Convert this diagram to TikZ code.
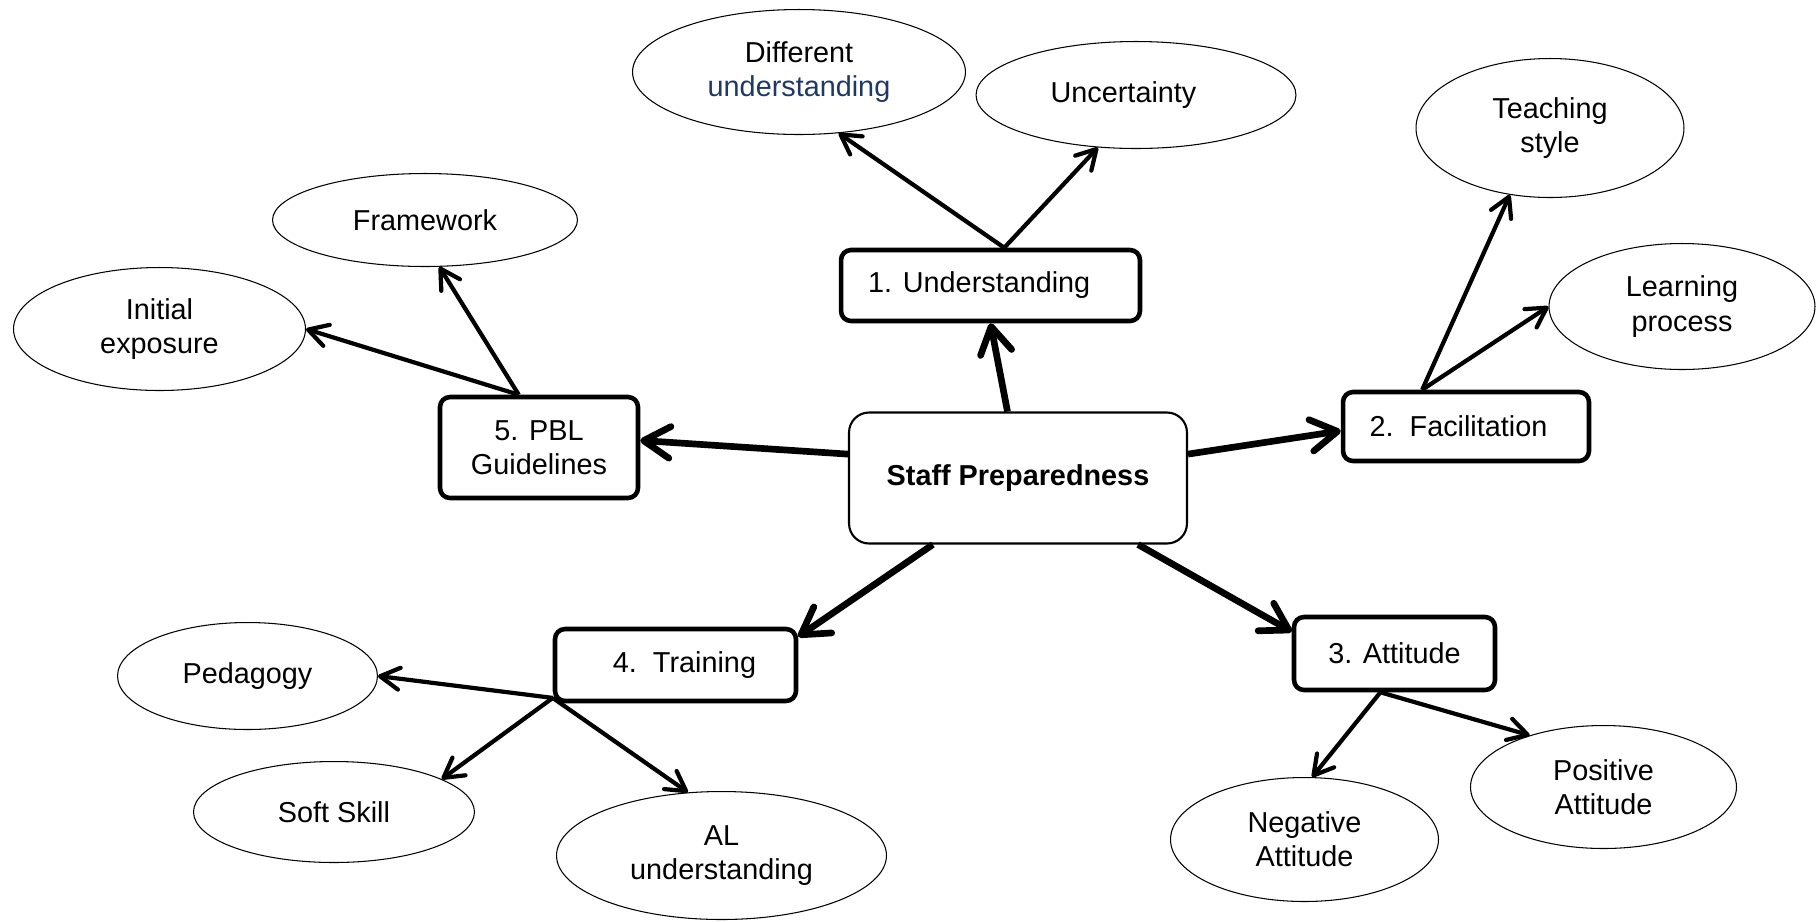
\documentclass[tikz,border=0pt]{standalone}
\usepackage{fontspec}
\setmainfont{Liberation Sans}
\usetikzlibrary{arrows.meta, shapes.geometric, positioning}
\definecolor{textblue}{HTML}{1F3864}

\begin{document}
\begin{tikzpicture}[
        x=0.02cm, y=-0.02cm,
        font=\fontsize{16.4}{19.4}\selectfont,
        hub/.style={draw, line width=1.2pt, rounded corners=0.4cm, inner sep=0pt,
            minimum width=6.76cm, minimum height=2.62cm},
        theme/.style={draw, line width=2.6pt, rounded corners=0.2cm, inner sep=0pt, align=center},
        leaf/.style={draw, ellipse, line width=0.6pt, inner sep=0pt, align=center},
        bigarrow/.style={line width=3.8pt, -{Straight Barb[length=15pt,width=18pt,round]}},
        smallarrow/.style={line width=2.4pt, -{Straight Barb[length=11pt,width=12.5pt,round]}},
        ]
        \useasboundingbox (0,0) rectangle (1816,921);

        \node[hub]                                                (sp)  at (1018,478) {\textbf{Staff Preparedness}};
        \node[theme, minimum width=5.98cm, minimum height=1.42cm] (c_1) at (990.5,285.5) {1. Understanding\hspace{0.45cm}};
        \node[theme, minimum width=4.92cm, minimum height=1.38cm] (c_2) at (1466,426.5)  {2.~~Facilitation\hspace{0.3cm}};
        \node[theme, minimum width=4.02cm, minimum height=1.46cm] (c_3) at (1394.5,653.5) {3. Attitude};
        \node[theme, minimum width=4.82cm, minimum height=1.44cm] (c_4) at (675.5,665)   {\hspace{0.36cm}4.~~Training};
        \node[theme, minimum width=3.96cm, minimum height=2.02cm] (c_5) at (539,447.5)   {5. PBL\\Guidelines};

        \node[leaf, minimum width=6.66cm, minimum height=2.50cm] (l_1a) at (799,72)      {Different\\\textcolor{textblue}{understanding}};
        \node[leaf, minimum width=6.40cm, minimum height=2.14cm] (l_1b) at (1136,95)     {Uncertainty\hspace{0.5cm}};
        \node[leaf, minimum width=5.36cm, minimum height=2.78cm] (l_2a) at (1550,128)    {Teaching\\style};
        \node[leaf, minimum width=5.32cm, minimum height=2.52cm] (l_2b) at (1682,306.5)  {Learning\\process};
        \node[leaf, minimum width=5.36cm, minimum height=2.48cm] (l_3a) at (1304.5,839.5) {Negative\\Attitude};
        \node[leaf, minimum width=5.32cm, minimum height=2.46cm] (l_3b) at (1603.5,787)  {Positive\\Attitude};
        \node[leaf, minimum width=5.20cm, minimum height=2.14cm] (l_4a) at (247.5,676)   {Pedagogy};
        \node[leaf, minimum width=5.62cm, minimum height=2.02cm] (l_4b) at (334,812)     {Soft Skill};
        \node[leaf, minimum width=6.60cm, minimum height=2.56cm] (l_4c) at (721.5,855.5) {AL\\understanding};
        \node[leaf, minimum width=6.10cm, minimum height=1.86cm] (l_5a) at (425,220)     {Framework};
        \node[leaf, minimum width=5.84cm, minimum height=2.46cm] (l_5b) at (159.5,329)   {Initial\\exposure};

        \path[bigarrow] (sp.99)  edge (c_1.south)
                        (sp.8)   edge (c_2.182)
                        (sp.-29) edge (c_3.168)
                        (sp.218) edge (c_4.13)
                        (sp.172) edge (c_5.4);

        \path[smallarrow] (c_1.70)   edge (l_1a.-57) edge (l_1b.-126);
        \path[smallarrow] (c_2.140)  edge (l_2a.-121) edge (l_2b.west);
        \path[smallarrow] (c_3.-110) edge (l_3a.83)  edge (l_3b.145);
        \path[smallarrow] (c_4.195)  edge (l_4a.east) edge (l_4b.17) edge (l_4c.118);
        \path[smallarrow] (c_5.111)  edge (l_5a.-73) edge (l_5b.east);
\end{tikzpicture}
\end{document}
